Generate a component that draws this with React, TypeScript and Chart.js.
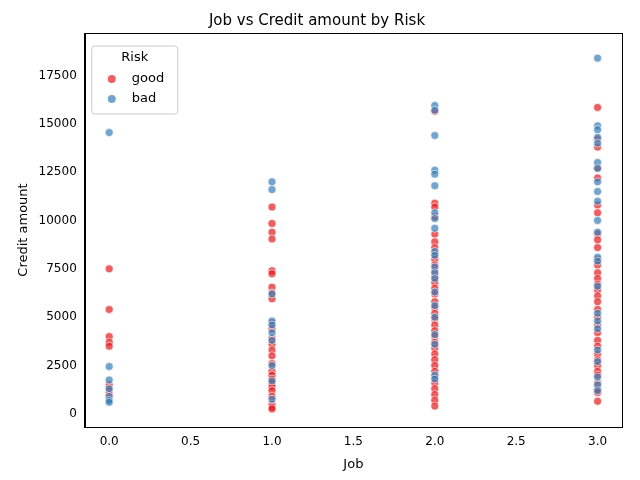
import React, { useEffect, useRef } from "react";
import { Chart, registerables } from "chart.js";
Chart.register(...registerables);

const jobs = [0, 1, 2, 3];
const goodByJob: number[][] = [
  [7500, 5400, 4000, 3700, 3500, 1500, 1200, 1000, 800],
  [10700, 9850, 9400, 9050, 7400, 7250, 6550, 6250, 5950, 4700, 4400, 3900, 3600, 3300, 3000, 2600, 2200, 2000, 1800, 1600, 1400, 1200, 900, 500, 350, 250],
  [15650, 10900, 10700, 10200, 9300, 8900, 8600, 8300, 8000, 7700, 7400, 7100, 6800, 6500, 6200, 5800, 5500, 5200, 4900, 4600, 4300, 4000, 3700, 3400, 3100, 2800, 2500, 2200, 1900, 1600, 1300, 1000, 700, 400],
  [15850, 14200, 13800, 12700, 12200, 10800, 10400, 9300, 9000, 8600, 8000, 7700, 7300, 7000, 6700, 6400, 6100, 5800, 5400, 5000, 4600, 4200, 3800, 3500, 3100, 2800, 2500, 2200, 2000, 1600, 1300, 1100, 650],
];
const badByJob: number[][] = [
  [14550, 2450, 1750, 1300, 900, 700, 600],
  [12000, 11600, 6200, 4800, 4600, 4200, 3800, 2500, 1700, 750],
  [15950, 15700, 14400, 12600, 12400, 11800, 10400, 10100, 9600, 8400, 8200, 7600, 7300, 7000, 6300, 5600, 5000, 4100, 3600, 2000, 1800],
  [18400, 14900, 14700, 14300, 14000, 13000, 12700, 12000, 11500, 11000, 10000, 9400, 8100, 7900, 6600, 5200, 4800, 4400, 3300, 2700, 1900, 1500, 1200],
];
const xTicks = [0, 0.5, 1, 1.5, 2, 2.5, 3];
const yTicks = [0, 2500, 5000, 7500, 10000, 12500, 15000, 17500];
const RED = "rgba(228,26,28,0.7)";
const BLUE = "rgba(55,126,184,0.7)";
const FONT = "'DejaVu Sans', sans-serif";

const toPts = (arr: number[][]) =>
  arr.flatMap((vals, i) => vals.map((v) => ({ x: jobs[i], y: v })));

export default function App() {
  const ref = useRef<HTMLCanvasElement>(null);
  useEffect(() => {
    document.body.style.margin = "0";
    const legendPlugin = {
      id: "inlegend",
      afterDraw(c: any) {
        const ctx = c.ctx;
        const a = c.chartArea;
        ctx.save();
        ctx.strokeStyle = "#000";
        ctx.lineWidth = 1;
        ctx.strokeRect(Math.round(a.left) + 0.5, Math.round(a.top) + 0.5, Math.round(a.right - a.left), Math.round(a.bottom - a.top));
        const x = a.left + 7, y = a.top + 13;
        ctx.fillStyle = "rgba(255,255,255,0.8)";
        ctx.strokeStyle = "#cccccc";
        ctx.beginPath();
        (ctx as any).roundRect(x, y, 86, 68, 3);
        ctx.fill();
        ctx.stroke();
        ctx.fillStyle = "#000";
        ctx.font = `13px ${FONT}`;
        ctx.textAlign = "center";
        ctx.textBaseline = "middle";
        ctx.fillText("Risk", x + 43, y + 12);
        ctx.textAlign = "left";
        const items: [string, string][] = [["good", RED], ["bad", BLUE]];
        items.forEach(([l, col], i) => {
          const yy = y + 33 + i * 20;
          ctx.beginPath();
          ctx.arc(x + 20, yy, 4, 0, Math.PI * 2);
          ctx.fillStyle = col;
          ctx.fill();
          ctx.fillStyle = "#000";
          ctx.fillText(l, x + 40, yy);
        });
        ctx.restore();
      },
    };
    const chart = new Chart(ref.current!, {
      type: "scatter",
      data: {
        datasets: [
          { label: "bad", data: toPts(badByJob), backgroundColor: BLUE, borderColor: "#fff", borderWidth: 0.6, pointRadius: 4, pointHoverRadius: 4 },
          { label: "good", data: toPts(goodByJob), backgroundColor: RED, borderColor: "#fff", borderWidth: 0.6, pointRadius: 4, pointHoverRadius: 4 },
        ],
      },
      options: {
        animation: false,
        responsive: false,
        layout: { padding: { top: 0, right: 18, left: 12, bottom: 4 } },
        plugins: {
          legend: { display: false },
          tooltip: { enabled: false },
          title: { display: true, text: "Job vs Credit amount by Risk", color: "#000", font: { family: FONT, size: 15, weight: "normal" }, padding: { top: 12, bottom: 3 } },
        },
        scales: {
          x: {
            type: "linear", min: -0.15, max: 3.15,
            afterBuildTicks: (ax: any) => { ax.ticks = xTicks.map((v) => ({ value: v })); },
            ticks: { color: "#000", font: { family: FONT, size: 12 }, callback: (v: any) => Number(v).toFixed(1) },
            grid: { display: false, drawTicks: true, tickLength: 5, tickColor: "#000" },
            border: { color: "#000" },
            title: { display: true, text: "Job", color: "#000", font: { family: FONT, size: 13 } },
          },
          y: {
            type: "linear", min: -680, max: 19700,
            afterBuildTicks: (ax: any) => { ax.ticks = yTicks.map((v) => ({ value: v })); },
            ticks: { color: "#000", font: { family: FONT, size: 12 }, callback: (v: any) => String(v) },
            grid: { display: false, drawTicks: true, tickLength: 5, tickColor: "#000" },
            border: { color: "#000" },
            title: { display: true, text: "Credit amount", color: "#000", font: { family: FONT, size: 13 } },
          },
        },
      },
      plugins: [legendPlugin],
    } as any);
    return () => chart.destroy();
  }, []);
  return <canvas ref={ref} width={640} height={480} style={{ display: "block" }} />;
}
